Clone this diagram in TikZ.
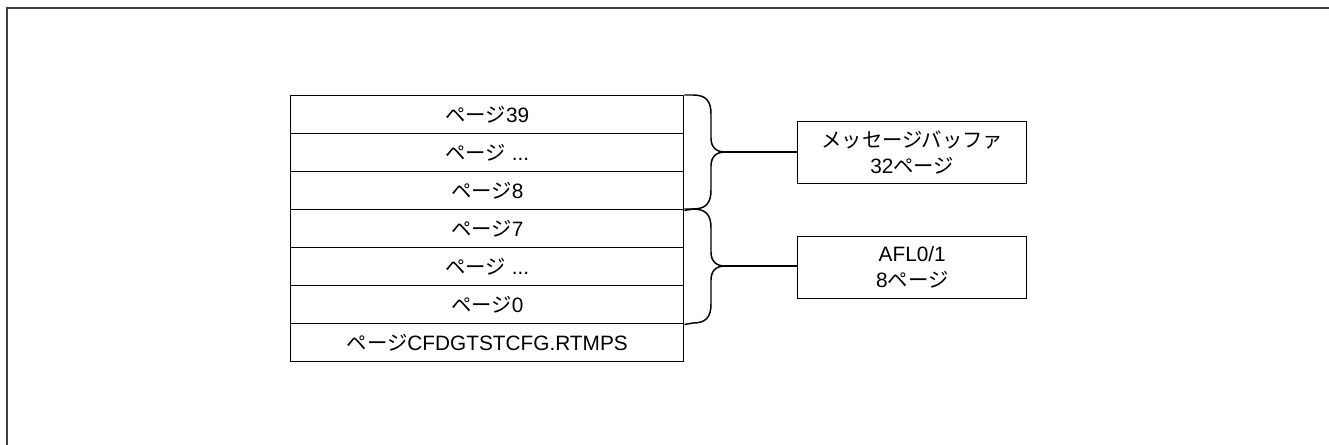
\documentclass[tikz,border=0pt]{standalone}
\usepackage{fontspec}
\setmainfont{Liberation Sans}
\newfontfamily\jp[Scale=0.98]{Noto Sans CJK JP}
\begin{document}
\begin{tikzpicture}[x=0.75pt,y=-0.75pt,
  cell/.style={draw=black,line width=1.1pt,minimum width=393*0.75pt,minimum height=38*0.75pt,inner sep=0pt,anchor=north west,font=\fontsize{15.6pt}{18pt}\selectfont},
  infobox/.style={draw=black,line width=1.1pt,minimum width=229*0.75pt,minimum height=62*0.75pt,inner sep=0pt,anchor=north west,align=center,font=\fontsize{15.6pt}{19.5pt}\selectfont},
  brace/.style={draw=black,line width=1.1pt},
  link/.style={draw=black,line width=1.1pt}]
\useasboundingbox (0,0) rectangle (1329,444);
\draw[line width=1.5pt,draw=black!75] (6.5,446) -- (6.5,7.5) -- (1331,7.5);
% stack
\node[cell] (r39) at (290,95) {{\jp ページ}39};
\node[cell] (rd1) at (290,133) {{\jp ページ} ...};
\node[cell] (r8)  at (290,171) {{\jp ページ}8};
\node[cell] (r7)  at (290,209) {{\jp ページ}7};
\node[cell] (rd2) at (290,247) {{\jp ページ} ...};
\node[cell] (r0)  at (290,285) {{\jp ページ}0};
\node[cell] (rc)  at (290,323) {{\jp ページ}CFDGTSTCFG.RTMPS};
% boxes
\node[infobox] (mb) at (797,121) {{\jp メッセージバッファ}\\32{\jp ページ}};
\node[infobox] (afl) at (797,236) {AFL0/1\\8{\jp ページ}};
% braces
\coordinate (t1) at (725,152);
\coordinate (t2) at (725,266);
\draw[brace] (r39.north east) -- (693,95) .. controls (706,95) and (711,101) .. (711,114) -- (711,138)
  .. controls (711,147) and (716,152) .. (t1)
  .. controls (716,152) and (711,157) .. (711,166) -- (711,190)
  .. controls (711,203) and (706,209) .. (693,209) -- (r8.south east);
\draw[brace] (r7.north east) -- (693,209) .. controls (706,209) and (711,215) .. (711,228) -- (711,252)
  .. controls (711,261) and (716,266) .. (t2)
  .. controls (716,266) and (711,271) .. (711,280) -- (711,304)
  .. controls (711,317) and (706,323) .. (693,323) -- (r0.south east);
\draw[link] (t1) -- (t1 -| mb.west);
\draw[link] (t2) -- (t2 -| afl.west);
\end{tikzpicture}
\end{document}
